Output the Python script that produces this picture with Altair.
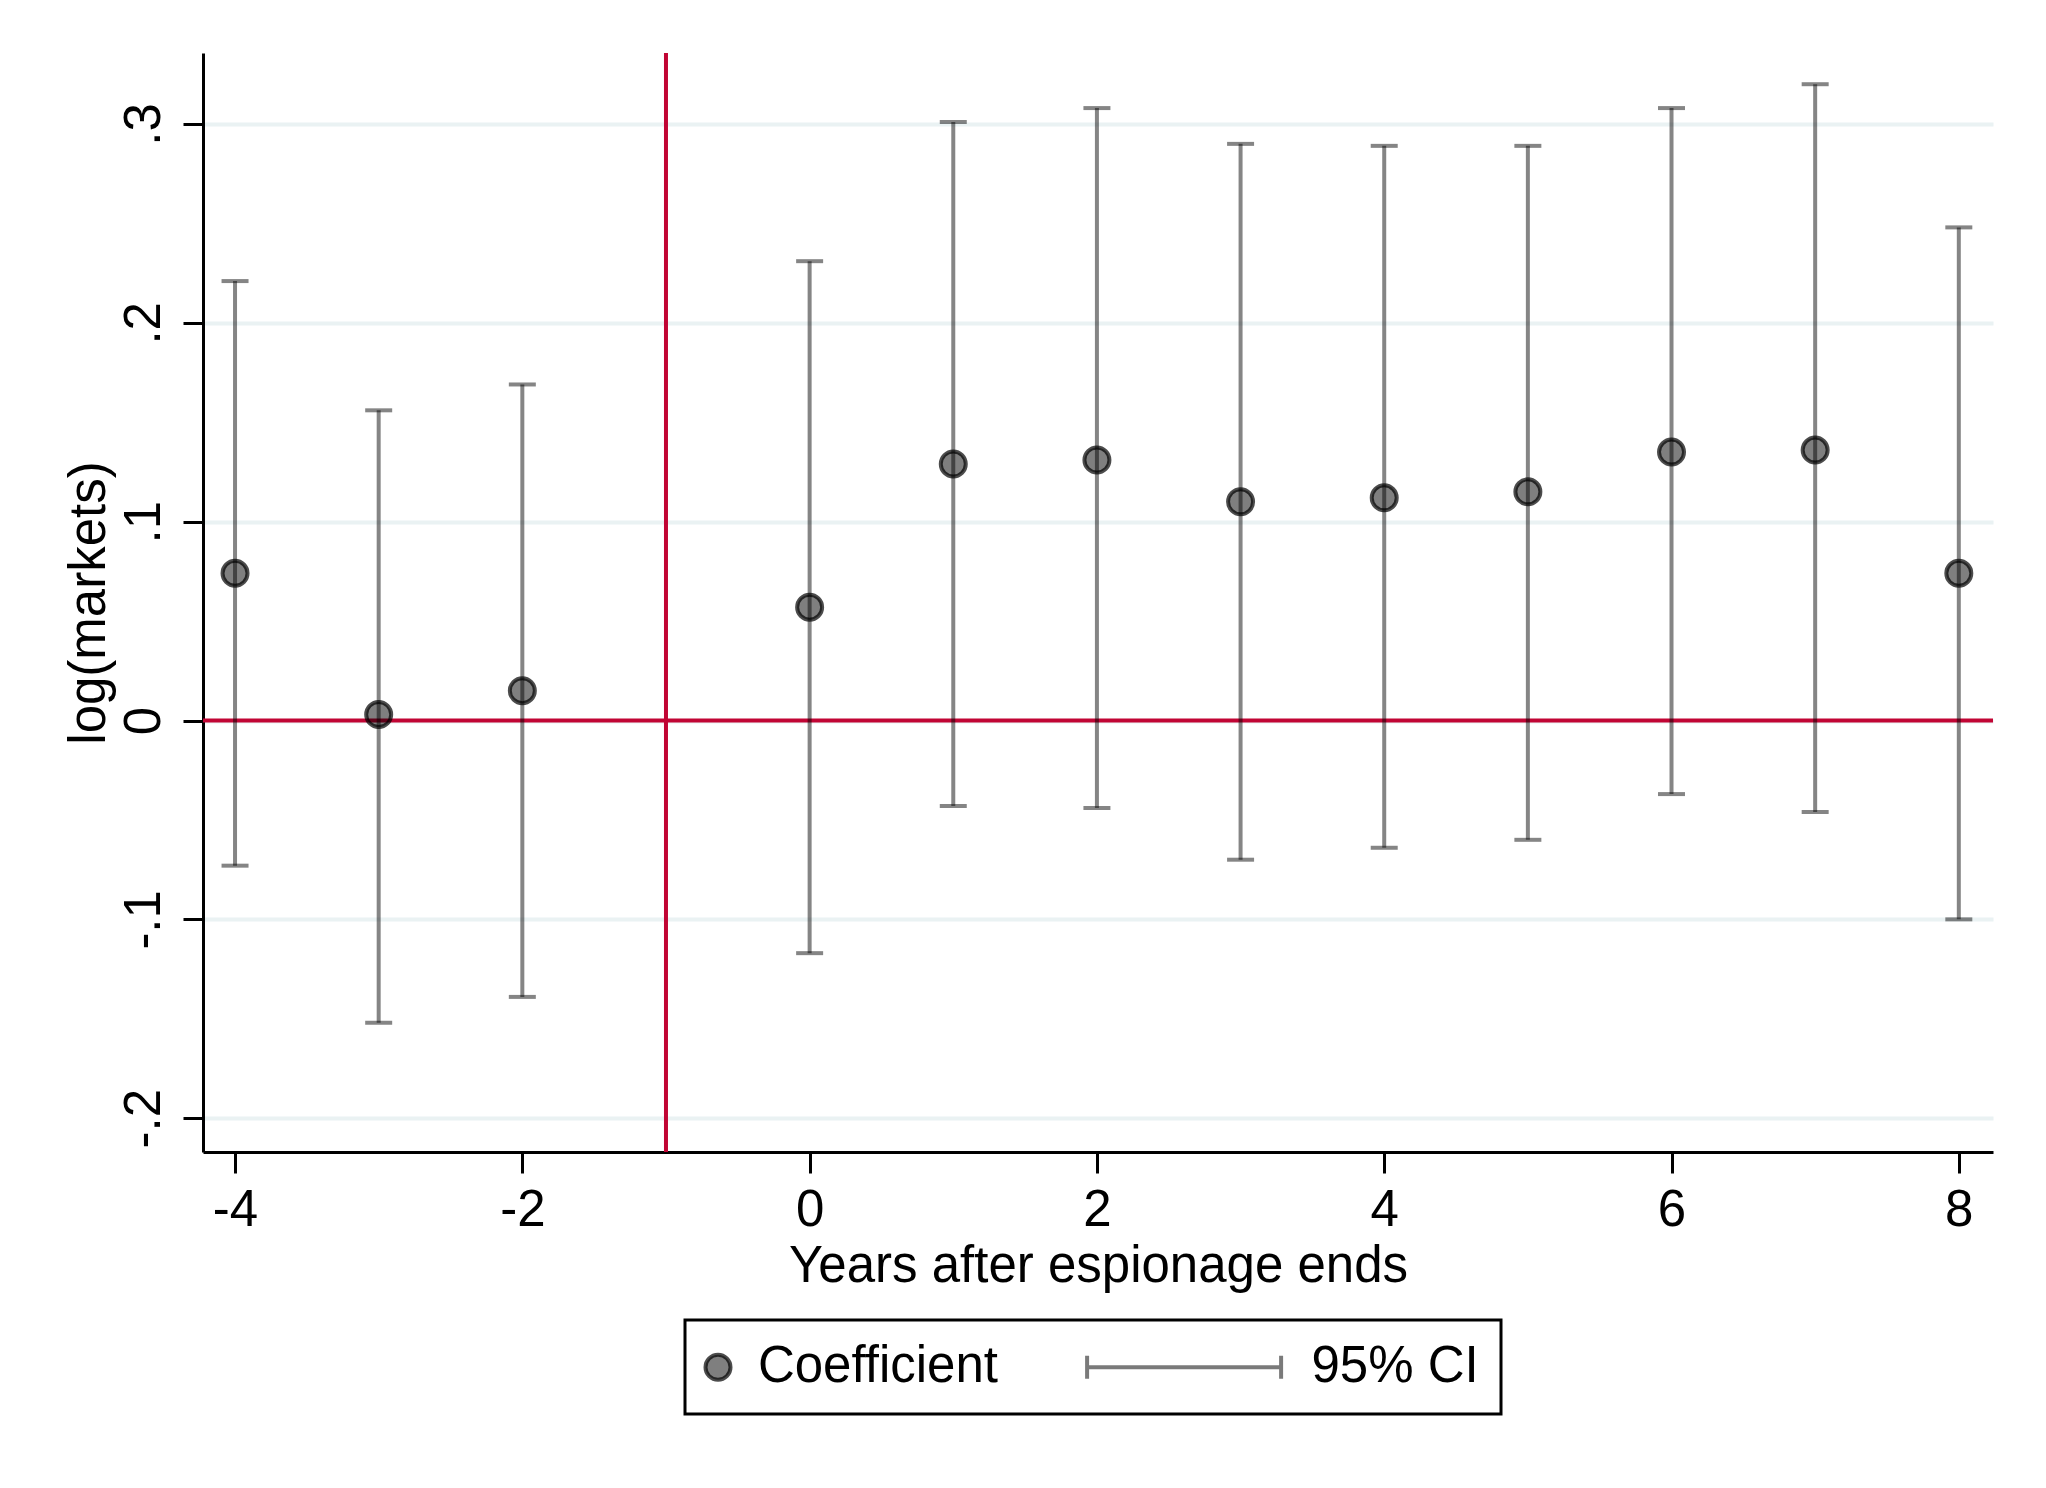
import altair as alt
import pandas as pd

# ---- data ----
years = [-4, -3, -2, 0, 1, 2, 3, 4, 5, 6, 7, 8]
coef = [0.074, 0.003, 0.015, 0.057, 0.129, 0.131, 0.110, 0.112, 0.115, 0.135, 0.136, 0.074]
ci_low = [-0.073, -0.152, -0.139, -0.117, -0.043, -0.044, -0.070, -0.064, -0.060, -0.037, -0.046, -0.100]
ci_high = [0.221, 0.156, 0.169, 0.231, 0.301, 0.308, 0.290, 0.289, 0.289, 0.308, 0.320, 0.248]
x_ticks = [-4, -2, 0, 2, 4, 6, 8]
y_ticks = [-0.2, -0.1, 0, 0.1, 0.2, 0.3]
ref_x = [-1]
ref_y = [0]
legend_labels = ["Coefficient", "95% CI"]

df = pd.DataFrame({"year": years, "coef": coef, "lo": ci_low, "hi": ci_high,
                   "kind": ["Coefficient"] * len(years)})
caps = pd.DataFrame({"year": years + years, "coef": ci_low + ci_high})
vline = pd.DataFrame({"year": ref_x})
hline = pd.DataFrame({"coef": ref_y})

W, H = 1790, 1099
FONT = "Liberation Sans"
RED = "#C10534"

xscale = alt.Scale(domain=[-4.223, 8.238], nice=False, zero=False)
yscale = alt.Scale(domain=[-0.217, 0.3357], nice=False, zero=False)

xaxis = alt.Axis(
    values=x_ticks, title="Years after espionage ends", grid=False,
    labelExpr="datum.value < 0 ? '-' + format(-datum.value, 'd') : format(datum.value, 'd')",
    tickSize=21, tickWidth=3, tickColor="black", domainColor="black", domainWidth=3,
    labelFont=FONT, labelFontSize=51, labelColor="black", labelBaseline="alphabetic",
    labelPadding=52, labelFlush=False, labelOverlap=False,
    titleFont=FONT, titleFontSize=51, titleFontWeight="normal", titleColor="black",
    titleBaseline="alphabetic", titleAlign="center", titleX=W / 2, titleY=129,
)
yaxis = alt.Axis(
    values=y_ticks, title="log(markets)", grid=True, gridColor="#EAF2F3", gridWidth=4,
    labelExpr="datum.value == 0 ? '0' : (datum.value < 0 ? '-' : '') + replace(format(abs(datum.value), '.1f'), '0.', '.')",
    tickSize=20, tickWidth=3, tickColor="black", domainColor="black", domainWidth=3,
    labelFont=FONT, labelFontSize=51, labelColor="black", labelAngle=270,
    labelAlign="center", labelBaseline="alphabetic", labelPadding=24,
    labelFlush=False, labelOverlap=False,
    titleFont=FONT, titleFontSize=51, titleFontWeight="normal", titleColor="black",
    titleAngle=270, titleBaseline="alphabetic", titleAlign="center", titleX=-99, titleY=H / 2,
)

X = alt.X("year:Q", scale=xscale, axis=xaxis)

h_rule = alt.Chart(hline).mark_rule(color=RED, strokeWidth=4).encode(
    y=alt.Y("coef:Q", scale=yscale, axis=yaxis))
v_rule = alt.Chart(vline).mark_rule(color=RED, strokeWidth=4).encode(x=X)

ci = alt.Chart(df).mark_rule(color="black", opacity=0.48, strokeWidth=4).encode(
    x=X, y=alt.Y("lo:Q", scale=yscale, axis=yaxis), y2="hi:Q")

cap = alt.Chart(caps).mark_tick(orient="horizontal", size=27, thickness=4,
                                color="black", opacity=0.48).encode(
    x=X, y=alt.Y("coef:Q", scale=yscale, axis=yaxis))

ci_path = "M-14.76,-0.92L-14.76,0.92M-14.76,0L0.76,0M0.76,-0.92L0.76,0.92"
legend = alt.Legend(title=None,
                    labelExpr="datum.label == '95% CI' ? datum.label + '\u2002\u2009\u2009' : datum.label")
pts = alt.Chart(df).mark_point(filled=True, size=625, strokeWidth=4, opacity=1).encode(
    x=X, y=alt.Y("coef:Q", scale=yscale, axis=yaxis),
    shape=alt.Shape("kind:N", scale=alt.Scale(domain=legend_labels, range=["circle", ci_path]), legend=legend),
    fill=alt.Fill("kind:N", scale=alt.Scale(domain=legend_labels,
                                            range=["rgba(0,0,0,0.5)", "rgba(0,0,0,0)"]), legend=legend),
    stroke=alt.Stroke("kind:N", scale=alt.Scale(domain=legend_labels,
                                                range=["rgba(0,0,0,0.7)", "rgba(0,0,0,0.52)"]), legend=legend),
)

chart = alt.layer(h_rule, v_rule, ci, cap, pts).properties(
    width=W, height=H, autosize="none",
    padding={"left": 195, "top": 45, "right": 40, "bottom": 320},
    background="white",
).configure_view(stroke=None).configure_legend(
    orient="none", legendX=482, legendY=1267, direction="horizontal", columns=2,
    symbolSize=625, symbolStrokeWidth=4, symbolOffset=-14, labelFont=FONT, labelFontSize=51,
    labelColor="black", labelOffset=14.4, labelLimit=1000, columnPadding=80.6,
    padding=21.5, strokeColor="black", strokeWidth=3, gridAlign="each",
)

chart.save("out.html", embed_options={"renderer": "svg", "actions": False})
